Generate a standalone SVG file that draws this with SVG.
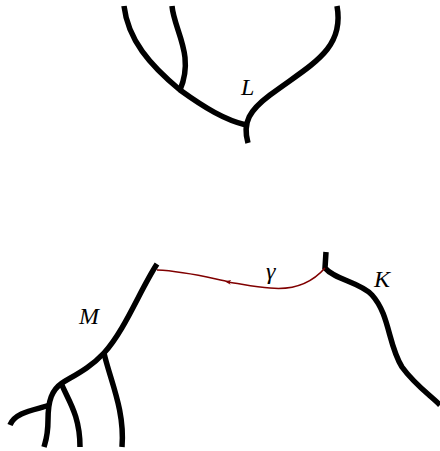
<svg xmlns="http://www.w3.org/2000/svg" width="440" height="451" viewBox="0 0 440 451">
<style>
.br{fill:none;stroke:#000;stroke-width:5.5;stroke-linecap:butt}
.g{fill:none;stroke:#800000;stroke-width:1.6}
.lb{font-family:"Liberation Serif",serif;font-style:italic;font-size:24px;fill:#000}
</style>
<defs>
<marker id="ar" viewBox="0 0 10 10" refX="5" refY="5" markerWidth="6" markerHeight="6" orient="auto" markerUnits="userSpaceOnUse">
<path d="M0,1 L10,5 L0,9 L3,5 Z" fill="#800000"/>
</marker>
</defs>
<g id="L">
<path class="br" d="M124,6 C128,40 150,65 180,90 C205,108 225,120 246,125"/>
<path class="br" d="M172,6 C174,30 195,55 180,90"/>
<path class="br" d="M337,6 C345,50 310,65 270,95 C250,110 242,122 248,143"/>
<text class="lb" x="241" y="95">L</text>
</g>
<g id="M">
<path class="br" d="M157,264 C140,290 125,330 104,353 C90,368 75,375 62,383 C52,390 48,400 48,420 C48,435 46,440 44,447"/>
<path class="br" d="M50,405 C35,410 15,412 10,425"/>
<path class="br" d="M62,385 C68,400 80,415 80,447"/>
<path class="br" d="M104,353 C110,380 125,410 122,447"/>
<text class="lb" x="79" y="324">M</text>
</g>
<g id="K">
<path class="br" d="M326,252 L325,268 C335,280 360,282 372,295 C390,315 388,345 402,367 C415,385 430,395 440,405"/>
<text class="lb" x="374" y="287">K</text>
</g>
<g id="connectors">
<path class="g" d="M325,268 C310,285 290,290 270,288 C255,287 242,284 228,282" marker-end="url(#ar)"/>
<path class="g" d="M230,282 C210,278 185,271 157,270"/>
<text class="lb" x="266" y="279">γ</text>
</g>
</svg>
